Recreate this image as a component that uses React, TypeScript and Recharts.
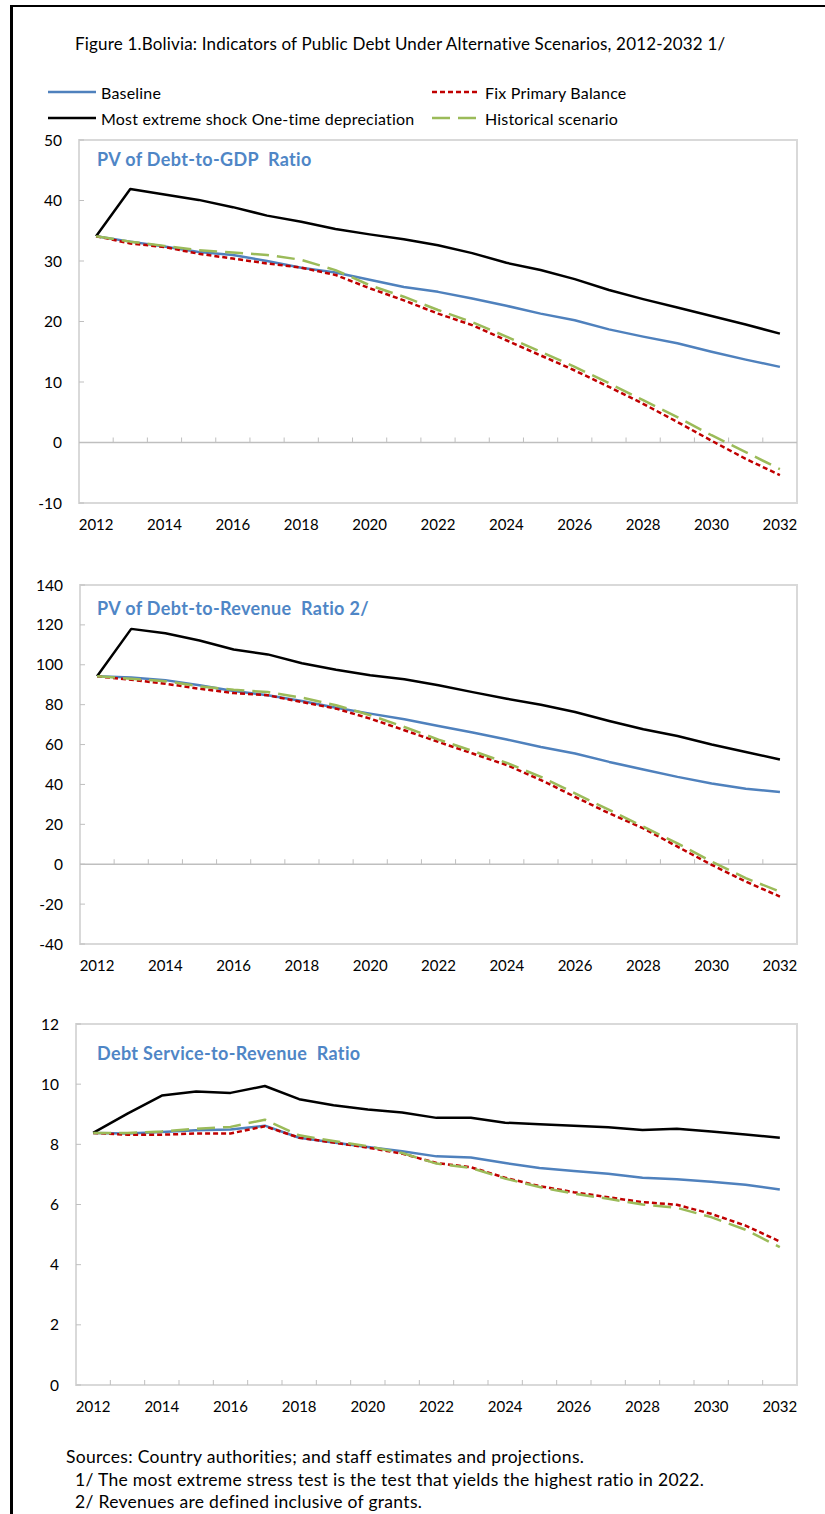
import { LineChart, Line, XAxis, YAxis, ReferenceLine, ReferenceArea } from 'recharts'

const years = [2012, 2013, 2014, 2015, 2016, 2017, 2018, 2019, 2020, 2021, 2022, 2023, 2024, 2025, 2026, 2027, 2028, 2029, 2030, 2031, 2032]
const yearTicks = [2012, 2014, 2016, 2018, 2020, 2022, 2024, 2026, 2028, 2030, 2032]

// PV of debt-to-GDP
const gdpBaseline = [34.1, 33.2, 32.4, 31.5, 31.0, 30.0, 28.9, 28.1, 26.9, 25.7, 24.9, 23.8, 22.6, 21.3, 20.2, 18.7, 17.5, 16.4, 15.0, 13.7, 12.5]
const gdpExtreme = [34.1, 41.9, 41.0, 40.1, 38.9, 37.5, 36.5, 35.3, 34.4, 33.6, 32.6, 31.3, 29.7, 28.5, 27.0, 25.2, 23.7, 22.3, 20.9, 19.5, 18.0]
const gdpFixPb = [34.1, 32.9, 32.3, 31.2, 30.4, 29.6, 28.9, 27.7, 25.5, 23.5, 21.3, 19.4, 16.9, 14.4, 11.9, 9.2, 6.4, 3.4, 0.3, -2.7, -5.4]
const gdpHistorical = [34.1, 33.2, 32.5, 31.8, 31.4, 31.0, 30.2, 28.5, 26.0, 24.1, 21.9, 19.9, 17.5, 15.0, 12.5, 9.8, 7.0, 4.2, 1.2, -1.6, -4.4]
const gdpTicks = [-10, 0, 10, 20, 30, 40, 50]

// PV of debt-to-revenue
const revBaseline = [94.2, 93.6, 92.3, 89.7, 86.8, 84.7, 81.8, 78.5, 75.5, 72.7, 69.3, 66.0, 62.5, 58.8, 55.5, 51.3, 47.5, 43.8, 40.5, 37.8, 36.2]
const revExtreme = [94.2, 118.0, 115.8, 112.2, 107.7, 105.2, 100.8, 97.5, 94.7, 92.7, 89.7, 86.3, 83.0, 80.0, 76.3, 71.8, 67.7, 64.3, 60.0, 56.3, 52.5]
const revFixPb = [94.2, 92.5, 90.5, 88.0, 85.8, 84.7, 81.3, 78.0, 73.0, 67.2, 61.3, 55.5, 49.7, 42.2, 33.8, 25.5, 18.0, 8.8, -0.3, -8.7, -16.2]
const revHistorical = [94.2, 93.0, 91.8, 89.2, 87.5, 86.3, 83.5, 79.7, 74.7, 68.8, 62.5, 56.8, 50.8, 43.8, 35.5, 27.2, 18.8, 10.5, 1.3, -7.0, -13.7]
const revTicks = [-40, -20, 0, 20, 40, 60, 80, 100, 120, 140]

// Debt service-to-revenue
const dsBaseline = [8.38, 8.36, 8.41, 8.47, 8.49, 8.62, 8.22, 8.06, 7.91, 7.77, 7.60, 7.56, 7.38, 7.21, 7.11, 7.02, 6.89, 6.84, 6.76, 6.66, 6.50]
const dsExtreme = [8.38, 9.02, 9.62, 9.76, 9.71, 9.94, 9.50, 9.30, 9.16, 9.06, 8.88, 8.88, 8.72, 8.67, 8.62, 8.57, 8.48, 8.52, 8.43, 8.33, 8.22]
const dsFixPb = [8.38, 8.32, 8.32, 8.36, 8.36, 8.60, 8.22, 8.06, 7.89, 7.69, 7.38, 7.24, 6.89, 6.61, 6.41, 6.24, 6.08, 5.99, 5.69, 5.30, 4.77]
const dsHistorical = [8.38, 8.38, 8.43, 8.52, 8.58, 8.82, 8.30, 8.11, 7.94, 7.71, 7.36, 7.22, 6.86, 6.58, 6.36, 6.19, 6.00, 5.89, 5.58, 5.16, 4.58]
const dsTicks = [0, 2, 4, 6, 8, 10, 12]

const series = [
  { key: 'baseline', name: 'Baseline', color: '#4f81bd', dash: undefined as string | undefined },
  { key: 'fixPb', name: 'Fix Primary Balance', color: '#c00000', dash: '5 3' },
  { key: 'extreme', name: 'Most extreme shock One-time depreciation', color: '#000000', dash: undefined },
  { key: 'historical', name: 'Historical scenario', color: '#9bbb59', dash: '18 8' },
]

const font = 'Lato, "Open Sans", sans-serif'

const rows = (b: number[], e: number[], f: number[], h: number[]) =>
  years.map((year, i) => ({ year, baseline: b[i], extreme: e[i], fixPb: f[i], historical: h[i] }))

interface PanelProps {
  title: string
  titleY: number
  data: ReturnType<typeof rows>
  ticks: number[]
  top: number
  left: number
  plotH: number
  zeroLine: boolean
}

function Panel({ title, titleY, data, ticks, top, left, plotH, zeroLine }: PanelProps) {
  const min = ticks[0]
  const max = ticks[ticks.length - 1]
  const tickLen = (5 * (max - min)) / plotH
  const boundaries = years.slice(0, -1).map(y => y + 0.5)
  const mTop = 10
  const axisH = 40
  return (
    <div style={{ position: 'absolute', left: 0, top: top - mTop }}>
      <LineChart width={825} height={mTop + plotH + axisH} data={data}
        margin={{ top: mTop, right: 28, left: left - 60, bottom: 0 }}>
        <XAxis dataKey="year" type="number" domain={[2011.5, 2032.5]} ticks={yearTicks}
          allowDataOverflow axisLine={false} tickLine={false} tickSize={0} tickMargin={16} height={axisH}
          tick={{ fontSize: 15, fill: '#000', fontFamily: font }} />
        <YAxis domain={[min, max]} ticks={ticks} width={60} axisLine={false}
          tickSize={-5} tickMargin={22} tickLine={{ stroke: '#bfbfbf' }}
          tick={{ fontSize: 15.5, fill: '#000', fontFamily: font }} />
        <ReferenceArea x1={2011.5} x2={2032.5} y1={min} y2={max} fill="none" stroke="#d9d9d9" strokeWidth={2} />
        {zeroLine && <ReferenceLine y={0} stroke="#bfbfbf" strokeWidth={1.5} />}
        {boundaries.map(b => (
          <ReferenceLine key={b} segment={[{ x: b, y: 0 }, { x: b, y: tickLen }]} stroke="#bfbfbf" strokeWidth={1} />
        ))}
        {series.map(s => (
          <Line key={s.key} dataKey={s.key} name={s.name} type="linear" stroke={s.color} strokeWidth={2.5}
            strokeDasharray={s.dash} dot={false} strokeLinejoin="round" isAnimationActive={false} />
        ))}
      </LineChart>
      <div style={{ position: 'absolute', left: 97, top: mTop + titleY - 12, fontFamily: font, fontWeight: 700,
        fontSize: 18, letterSpacing: 0.35, color: '#4f86c6', whiteSpace: 'pre' }}>{title}</div>
    </div>
  )
}

function LegendItem({ name, color, dash, x, y }: { name: string; color: string; dash?: string; x: number; y: number }) {
  return (
    <div style={{ position: 'absolute', left: x, top: y - 11, height: 22, display: 'flex', alignItems: 'center' }}>
      <svg width={50} height={6}>
        <line x1={0} y1={3} x2={48} y2={3} stroke={color} strokeWidth={2.5} strokeDasharray={dash} />
      </svg>
      <span style={{ fontFamily: font, fontSize: 16, letterSpacing: 0.2, color: '#000', marginLeft: 3 }}>{name}</span>
    </div>
  )
}

export default function App() {
  const legendPos = [[48, 92], [432, 92], [48, 118], [432, 118]]
  const text = { position: 'absolute' as const, fontFamily: font, fontSize: 17.5, letterSpacing: 0.3, color: '#000', whiteSpace: 'pre' as const }
  return (
    <div style={{ position: 'absolute', left: 0, top: 0, width: 825, height: 1514, background: '#fff', overflow: 'hidden' }}>
      <div style={{ position: 'absolute', left: 10, top: 5, width: 900, height: 1600, borderLeft: '3px solid #000', borderTop: '2px solid #000' }} />
      <div style={{ ...text, left: 75, top: 33, fontSize: 17, letterSpacing: 0.18 }}>Figure 1.Bolivia: Indicators of Public Debt Under Alternative Scenarios, 2012-2032 1/</div>
      {series.map((s, i) => (
        <LegendItem key={s.key} name={s.name} color={s.color} dash={s.dash} x={legendPos[i][0]} y={legendPos[i][1]} />
      ))}
      <Panel title="PV of Debt-to-GDP  Ratio" titleY={20} data={rows(gdpBaseline, gdpExtreme, gdpFixPb, gdpHistorical)}
        ticks={gdpTicks} top={140} left={79} plotH={363} zeroLine />
      <Panel title="PV of Debt-to-Revenue  Ratio 2/" titleY={24} data={rows(revBaseline, revExtreme, revFixPb, revHistorical)}
        ticks={revTicks} top={585} left={80} plotH={359} zeroLine />
      <Panel title="Debt Service-to-Revenue  Ratio" titleY={30} data={rows(dsBaseline, dsExtreme, dsFixPb, dsHistorical)}
        ticks={dsTicks} top={1024} left={76} plotH={361} zeroLine={false} />
      <div style={{ ...text, left: 66, top: 1446 }}>Sources: Country authorities; and staff estimates and projections.</div>
      <div style={{ ...text, left: 75, top: 1469 }}>1/ The most extreme stress test is the test that yields the highest ratio in 2022.</div>
      <div style={{ ...text, left: 75, top: 1491 }}>2/ Revenues are defined inclusive of grants.</div>
    </div>
  )
}
